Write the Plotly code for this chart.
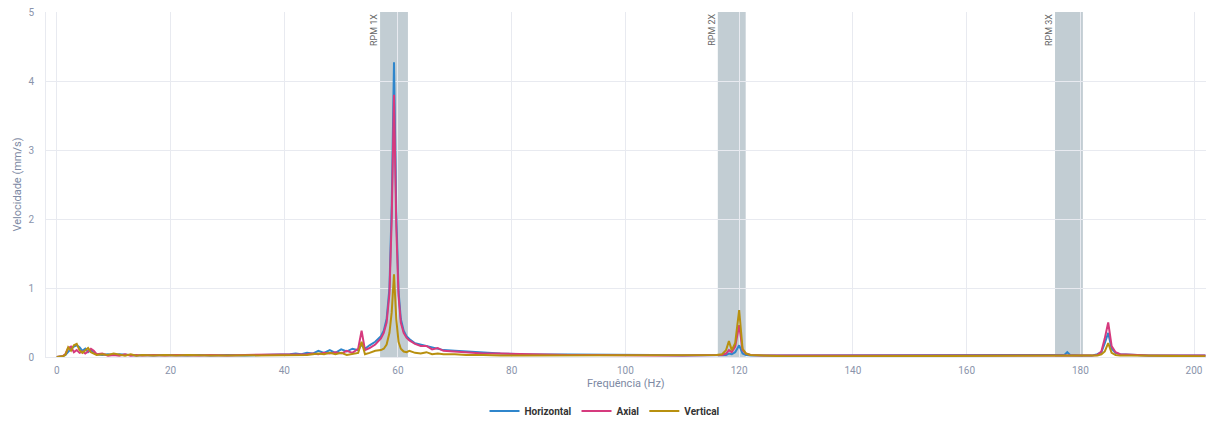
import plotly.graph_objects as go

freq = [0, 1, 1.5, 2, 2.5, 3, 3.5, 4, 4.5, 5,
        5.5, 6, 6.5, 7, 8, 9, 10, 11, 12, 13,
        14, 15, 17, 19, 21, 23, 25, 27, 30, 33,
        36, 39, 41, 42, 43, 44, 45, 46, 47, 48,
        49, 50, 51, 52, 53, 53.6, 54.2, 55, 56, 57,
        57.5, 58, 58.5, 58.9, 59.3, 59.7, 60.1, 60.5, 61, 61.5,
        62, 63, 64, 65, 66, 67, 68, 70, 72, 75,
        78, 82, 86, 90, 95, 100, 105, 110, 114, 116,
        117, 117.7, 118.2, 118.7, 119.3, 120, 120.6, 121.2, 122, 124,
        128, 135, 145, 155, 165, 172, 176, 177.2, 177.7, 178.2,
        180, 182, 183, 183.7, 184.3, 184.9, 185.5, 186.2, 187, 189,
        192, 196, 200, 202]

horizontal = [0, 0.01, 0.03, 0.08, 0.12, 0.15, 0.17, 0.14, 0.09, 0.12,
              0.07, 0.10, 0.06, 0.04, 0.03, 0.04, 0.03, 0.04, 0.03, 0.03,
              0.02, 0.03, 0.02, 0.03, 0.02, 0.02, 0.03, 0.02, 0.03, 0.02,
              0.03, 0.03, 0.04, 0.05, 0.04, 0.06, 0.05, 0.09, 0.06, 0.10,
              0.06, 0.11, 0.08, 0.12, 0.10, 0.18, 0.12, 0.17, 0.22, 0.30,
              0.38, 0.55, 1.00, 2.2, 4.27, 2.1, 0.95, 0.55, 0.38, 0.30,
              0.26, 0.20, 0.18, 0.15, 0.13, 0.12, 0.10, 0.09, 0.08, 0.06,
              0.05, 0.04, 0.04, 0.03, 0.03, 0.03, 0.03, 0.02, 0.02, 0.02,
              0.02, 0.03, 0.05, 0.04, 0.07, 0.17, 0.05, 0.03, 0.02, 0.02,
              0.02, 0.02, 0.02, 0.02, 0.02, 0.02, 0.02, 0.03, 0.07, 0.03,
              0.02, 0.02, 0.04, 0.07, 0.20, 0.35, 0.12, 0.06, 0.04, 0.03,
              0.02, 0.02, 0.02, 0.02]

axial = [0, 0.01, 0.04, 0.13, 0.15, 0.07, 0.10, 0.06, 0.08, 0.05,
         0.08, 0.12, 0.09, 0.04, 0.05, 0.02, 0.03, 0.02, 0.04, 0.02,
         0.03, 0.02, 0.03, 0.02, 0.03, 0.02, 0.02, 0.03, 0.02, 0.03,
         0.03, 0.03, 0.03, 0.04, 0.03, 0.04, 0.05, 0.04, 0.06, 0.05,
         0.07, 0.05, 0.09, 0.06, 0.12, 0.38, 0.10, 0.13, 0.18, 0.27,
         0.35, 0.50, 0.92, 2.0, 3.80, 1.9, 0.88, 0.50, 0.35, 0.28,
         0.24, 0.19, 0.16, 0.16, 0.11, 0.13, 0.09, 0.08, 0.07, 0.05,
         0.05, 0.04, 0.04, 0.03, 0.03, 0.02, 0.02, 0.02, 0.02, 0.02,
         0.03, 0.05, 0.10, 0.07, 0.15, 0.46, 0.10, 0.05, 0.03, 0.02,
         0.02, 0.02, 0.02, 0.02, 0.01, 0.01, 0.01, 0.02, 0.02, 0.02,
         0.01, 0.02, 0.03, 0.08, 0.27, 0.50, 0.16, 0.07, 0.04, 0.03,
         0.02, 0.02, 0.02, 0.02]

vertical = [0, 0.01, 0.03, 0.14, 0.09, 0.17, 0.19, 0.10, 0.06, 0.09,
            0.13, 0.07, 0.05, 0.03, 0.04, 0.03, 0.05, 0.03, 0.02, 0.04,
            0.02, 0.03, 0.02, 0.03, 0.02, 0.03, 0.02, 0.02, 0.02, 0.02,
            0.02, 0.02, 0.03, 0.03, 0.02, 0.03, 0.04, 0.05, 0.04, 0.06,
            0.04, 0.06, 0.03, 0.05, 0.06, 0.22, 0.04, 0.06, 0.09, 0.10,
            0.12, 0.18, 0.35, 0.65, 1.20, 0.55, 0.22, 0.12, 0.08, 0.07,
            0.09, 0.06, 0.05, 0.07, 0.04, 0.05, 0.04, 0.04, 0.03, 0.03,
            0.02, 0.02, 0.02, 0.02, 0.02, 0.02, 0.02, 0.02, 0.02, 0.03,
            0.04, 0.10, 0.23, 0.10, 0.20, 0.68, 0.12, 0.05, 0.03, 0.02,
            0.01, 0.01, 0.01, 0.01, 0.01, 0.01, 0.01, 0.01, 0.01, 0.01,
            0.01, 0.01, 0.02, 0.04, 0.08, 0.20, 0.06, 0.03, 0.02, 0.02,
            0.02, 0.01, 0.01, 0.01]

series_names = ["Horizontal", "Axial", "Vertical"]
series_colors = ["#2f86cc", "#d63a7e", "#b8900f"]

band_labels = ["RPM 1X", "RPM 2X", "RPM 3X"]
band_centers = [59.3, 118.7, 178.0]
band_half_width = 2.45

x_title = "Frequência (Hz)"
y_title = "Velocidade (mm/s)"

fig = go.Figure()
for name, vals, col in zip(series_names, [horizontal, axial, vertical], series_colors):
    fig.add_trace(go.Scatter(x=freq, y=vals, name="<b>" + name + "</b>", mode="lines",
                             line=dict(color=col, width=2)))

for lab, c in zip(band_labels, band_centers):
    fig.add_shape(type="rect", xref="x", yref="paper",
                  x0=c - band_half_width, x1=c + band_half_width, y0=0, y1=1,
                  fillcolor="#90a4ae", opacity=0.55, line=dict(width=0),
                  layer="below")
    fig.add_annotation(x=c - band_half_width, y=1, xref="x", yref="paper",
                       text=lab, textangle=-90, showarrow=False,
                       xanchor="right", yanchor="top", xshift=1,
                       font=dict(size=9, color="#666"))

title_font = dict(family="Roboto", size=11, color="#7d89a3")
fig.add_annotation(text=x_title, xref="paper", yref="paper", x=0.5, y=0,
                   yshift=-26, xanchor="center", yanchor="middle",
                   showarrow=False, font=title_font)
fig.add_annotation(text=y_title, xref="paper", yref="paper", x=0, y=0.5,
                   xshift=-29, xanchor="center", yanchor="middle", textangle=-90,
                   showarrow=False, font=title_font)

axis_font = dict(family="Roboto", size=10, color="#8a94ab")
fig.update_layout(
    width=1210, height=421,
    margin=dict(l=46, r=4, t=12, b=64),
    paper_bgcolor="white", plot_bgcolor="white",
    font=dict(family="Roboto", color="#8a94ab"),
    showlegend=True,
    legend=dict(orientation="h", xref="container", x=0.5, xanchor="center",
                yref="container", y=0.024, yanchor="middle",
                font=dict(family="Roboto", size=10, color="#333"),
                itemwidth=30, tracegroupgap=0),
    xaxis=dict(range=[-1.9, 202.1], dtick=20, showgrid=True, gridcolor="#e8eaf0",
               zeroline=False, showline=True, linecolor="#e8eaf0",
               tickfont=axis_font, ticks="", automargin=False, ticklabelstandoff=4),
    yaxis=dict(range=[0, 5], dtick=1, showgrid=True, gridcolor="#e8eaf0",
               zeroline=False, showline=True, linecolor="#e8eaf0",
               tickfont=axis_font, ticks="", ticklabelstandoff=9, automargin=False),
)

fig.write_html("out.html", config={"displayModeBar": False},
               post_script="document.body.style.margin='0';document.body.style.overflow='hidden';")
